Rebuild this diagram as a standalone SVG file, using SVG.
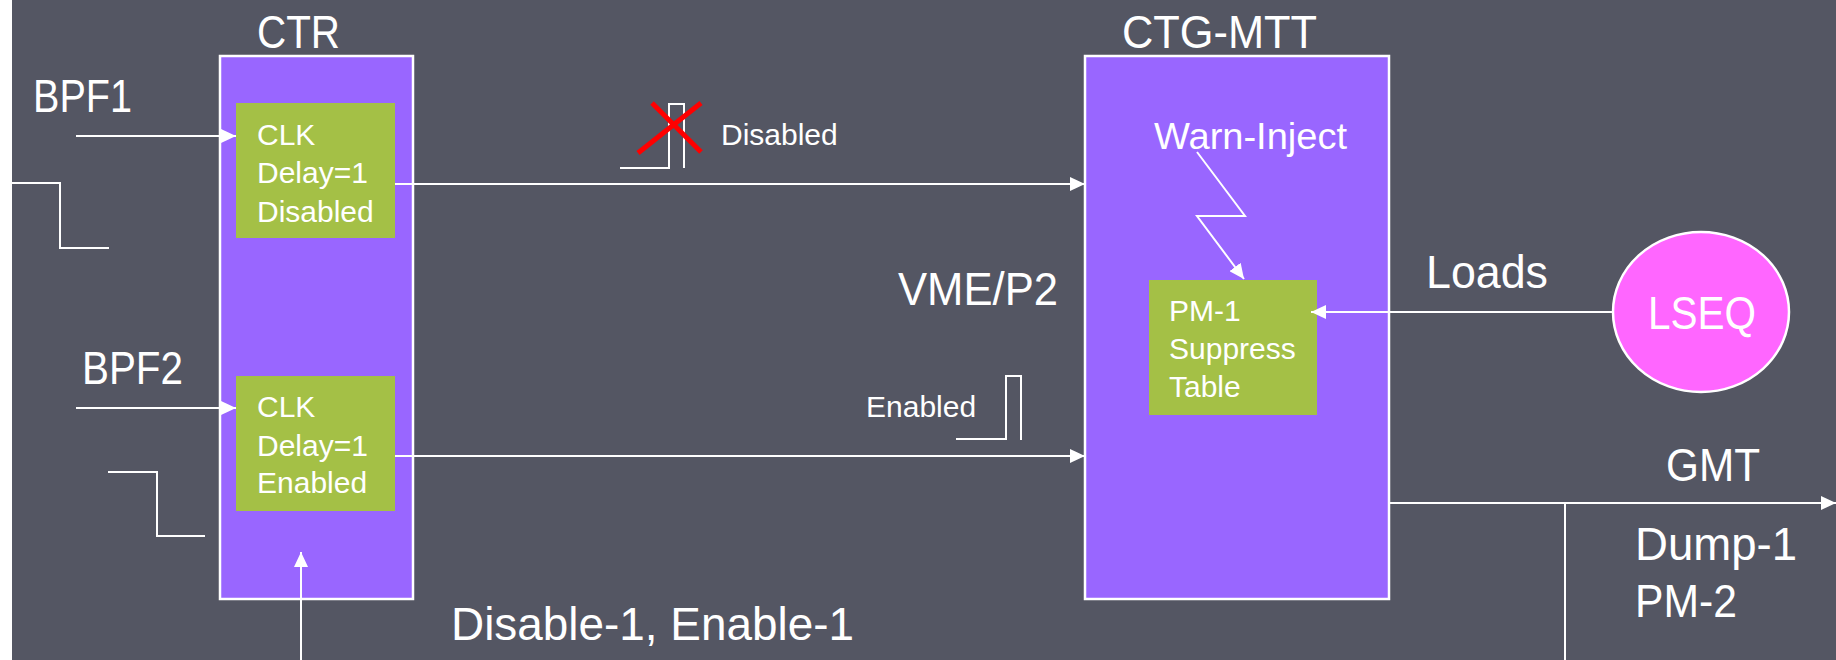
<svg xmlns="http://www.w3.org/2000/svg" width="1836" height="660" viewBox="0 0 1836 660">
<defs>
<marker id="arr" markerUnits="userSpaceOnUse" markerWidth="16" markerHeight="14" refX="15" refY="7" orient="auto">
<path d="M0,0 L15,7 L0,14 z" fill="#ffffff"/>
</marker>
<style>
.bg{fill:#545663}
.box{fill:#9966FF;stroke:#ffffff;stroke-width:2.5}
.gbox{fill:#A4C046}
.ell{fill:#FF66FF;stroke:#ffffff;stroke-width:2.5}
.t{font-family:"Liberation Sans",Arial,sans-serif;fill:#ffffff}
.big{font-size:46px}
.sm{font-size:30px}
.ln{fill:none;stroke:#ffffff;stroke-width:2}
.arw{fill:none;stroke:#ffffff;stroke-width:2;marker-end:url(#arr)}
.x{stroke:#ff0000;stroke-width:5;stroke-linecap:butt}
</style>
</defs>
<rect class="bg" x="0" y="0" width="1836" height="660"/>
<rect x="0" y="0" width="12" height="660" fill="#ffffff"/>

<g id="ctr">
<rect class="box" x="220" y="56" width="193" height="543"/>
<text class="t big" x="257" y="48" textLength="83" lengthAdjust="spacingAndGlyphs">CTR</text>
</g>
<g id="clk1">
<rect class="gbox" x="236" y="103" width="159" height="135"/>
<text class="t sm" x="257" y="145">CLK</text>
<text class="t sm" x="257" y="183">Delay=1</text>
<text class="t sm" x="257" y="222">Disabled</text>
</g>
<g id="clk2">
<rect class="gbox" x="236" y="376" width="159" height="135"/>
<text class="t sm" x="257" y="417">CLK</text>
<text class="t sm" x="257" y="456">Delay=1</text>
<text class="t sm" x="257" y="493">Enabled</text>
</g>
<g id="ctgmtt">
<rect class="box" x="1085" y="56" width="304" height="543"/>
<text class="t big" x="1122" y="48" textLength="195" lengthAdjust="spacingAndGlyphs">CTG-MTT</text>
<text class="t" style="font-size:36px" x="1154" y="149" textLength="193" lengthAdjust="spacingAndGlyphs">Warn-Inject</text>
</g>
<g id="pm1">
<rect class="gbox" x="1149" y="280" width="168" height="135"/>
<text class="t sm" x="1169" y="321">PM-1</text>
<text class="t sm" x="1169" y="359">Suppress</text>
<text class="t sm" x="1169" y="397">Table</text>
</g>
<g id="lseq">
<ellipse class="ell" cx="1701" cy="312" rx="88" ry="80"/>
<text class="t big" x="1648" y="329" textLength="108" lengthAdjust="spacingAndGlyphs">LSEQ</text>
</g>

<g id="labels">
<text class="t big" x="33" y="112" textLength="99" lengthAdjust="spacingAndGlyphs">BPF1</text>
<text class="t big" x="82" y="384" textLength="101" lengthAdjust="spacingAndGlyphs">BPF2</text>
<text class="t big" x="898" y="305" textLength="160" lengthAdjust="spacingAndGlyphs">VME/P2</text>
<text class="t big" x="1426" y="288" textLength="122" lengthAdjust="spacingAndGlyphs">Loads</text>
<text class="t big" x="1666" y="481" textLength="94" lengthAdjust="spacingAndGlyphs">GMT</text>
<text class="t big" x="1635" y="560" textLength="162" lengthAdjust="spacingAndGlyphs">Dump-1</text>
<text class="t big" x="1635" y="617" textLength="102" lengthAdjust="spacingAndGlyphs">PM-2</text>
<text class="t big" x="451" y="640" textLength="403" lengthAdjust="spacingAndGlyphs">Disable-1, Enable-1</text>
<text class="t sm" x="721" y="145">Disabled</text>
<text class="t sm" x="866" y="417">Enabled</text>
</g>

<g id="waveforms">
<polyline class="ln" points="12,183 60,183 60,248 109,248"/>
<polyline class="ln" points="108,472 157,472 157,536 205,536"/>
<polyline class="ln" points="620,168 669,168 669,104 684,104 684,168"/>
<polyline class="ln" points="956,439 1006,439 1006,376 1021,376 1021,440"/>
<line class="x" x1="652" y1="103" x2="701" y2="152"/>
<line class="x" x1="701" y1="103" x2="638" y2="153"/>
</g>

<g id="connectors">
<line class="arw" x1="76" y1="136" x2="236" y2="136"/>
<line class="arw" x1="76" y1="408" x2="236" y2="408"/>
<line class="arw" x1="395" y1="184" x2="1085" y2="184"/>
<line class="arw" x1="395" y1="456" x2="1085" y2="456"/>
<line class="arw" x1="301" y1="660" x2="301" y2="552"/>
<polyline class="arw" points="1197,152 1245,216 1197,216 1244,279"/>
<line class="arw" x1="1613" y1="312" x2="1311" y2="312"/>
<line class="arw" x1="1389" y1="503" x2="1836" y2="503"/>
<line class="ln" x1="1565" y1="503" x2="1565" y2="660"/>
</g>
</svg>
